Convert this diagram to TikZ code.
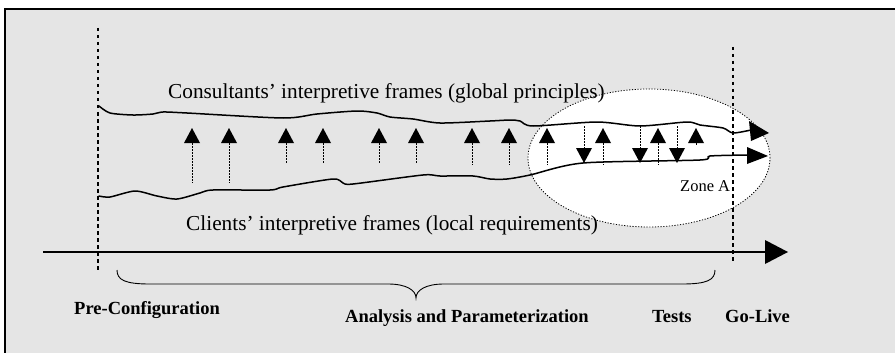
\documentclass[tikz,border=0pt]{standalone}
\usepackage{fontspec}
\setmainfont{Liberation Serif}
\definecolor{bggray}{RGB}{229,229,229}
\begin{document}
\begin{tikzpicture}[x=1pt,y=-1pt,
  framepart/.style={line width=2pt},
  wavy/.style={line width=1.5pt, line join=round, line cap=round},
  phaseline/.style={line width=2pt, dash pattern=on 3.5pt off 3.5pt},
  shaft/.style={line width=0.8pt, dash pattern=on 1.5pt off 1.5pt},
  zone/.style={line width=0.8pt, dash pattern=on 1.2pt off 1.6pt, fill=white},
  bigtxt/.style={inner sep=0pt, anchor=base west, font=\fontsize{21.3}{25}\selectfont},
  smalltxt/.style={inner sep=0pt, anchor=base west, font=\fontsize{16.5}{19}\selectfont},
  phasetxt/.style={inner sep=0pt, anchor=base west, font=\fontsize{18.5}{22}\selectfont\bfseries},
]
\useasboundingbox (0,0) rectangle (895,353);
% background frame
\fill[bggray] (5,9.5) rectangle (895,353);
\draw[framepart] (895,9.5) -- (5,9.5) -- (5,353);

% Zone A ellipse
\draw[zone] (649,158) ellipse [x radius=121pt, y radius=69pt];

% phase boundaries
\draw[phaseline] (98,28) -- (98,270);
\draw[phaseline] (733,47) -- (733,263);

% consultants' frame line
\draw[wavy] plot[smooth, tension=0.45] coordinates {(99,106) (110,113) (133,115) (153,114) (163,112) (187,113) (283,118) (317,114) (357,111) (377,113) (390,117) (413,119) (440,123) (490,121) (510,120) (520,121) (533,126) (597,122) (640,126) (687,122) (700,125) (723,128) (733,133) (751,130)};
\fill (749,121) -- (769,133) -- (751,141) -- cycle;

% clients' frame line
\draw[wavy] plot[smooth, tension=0.45] coordinates {(99,196) (110,197) (135,191) (157,196) (177,199) (200,193) (213,190) (270,190) (283,187) (333,179) (343,183) (353,184) (423,175) (440,176) (473,176) (490,179) (507,179) (530,175) (583,163) (700,160) (710,156) (749,155)};
\fill (747,147) -- (768,156) -- (747,164) -- cycle;

% upward influence arrows
\foreach \x/\e in {192/183, 229/183, 286/164, 323/164, 379/164, 416/164, 472/165, 509/165, 547/165, 603/165, 658/165, 696/146}{
  \draw[shaft] (\x,143) -- (\x,\e);
  \fill (\x-8,143) -- (\x,128) -- (\x+8,143) -- cycle;
}
% downward influence arrows
\foreach \x in {584, 640, 677}{
  \draw[shaft] (\x,126) -- (\x,148);
  \fill (\x-8,148) -- (\x,163) -- (\x+8,148) -- cycle;
}

% timeline
\draw[line width=1.7pt] (43,252) -- (766,252);
\fill (765,240) -- (788,252) -- (765,264) -- cycle;

% brace
\draw[line width=0.9pt] (117,270) .. controls (117,280) and (125,284) .. (150,284) -- (388,284) .. controls (406,284) and (416,290) .. (416,298) .. controls (416,290) and (426,284) .. (444,284) -- (682,284) .. controls (707,284) and (715,280) .. (715,270);

% texts
\node[bigtxt] (cons) at (168,99) {Consultants’ interpretive frames (global principles)};
\node[bigtxt] (cli) at (186,230) {Clients’ interpretive frames (local requirements)};
\node[smalltxt] (zoneA) at (680,191) {Zone A};
\node[phasetxt] (pre) at (74,314) {Pre-Configuration};
\node[phasetxt] (ana) at (345,322) {Analysis and Parameterization};
\node[phasetxt] (tests) at (652,322) {Tests};
\node[phasetxt] (golive) at (725,322) {Go-Live};
\end{tikzpicture}
\end{document}
